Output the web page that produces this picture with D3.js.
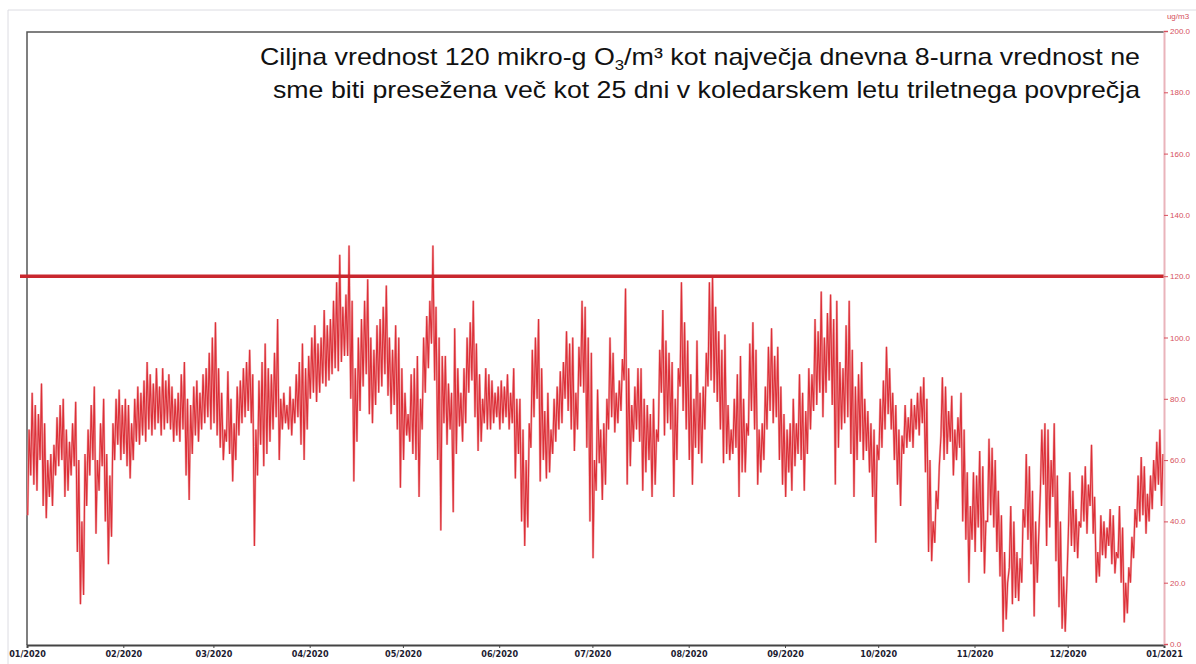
<!DOCTYPE html>
<html>
<head>
<meta charset="utf-8">
<script src="https://cdn.jsdelivr.net/npm/d3@7"></script>
<style>
  body { margin: 0; background: #fff; }
  svg { display: block; font-family: "Liberation Sans", Arial, sans-serif; }
</style>
</head>
<body>
<div id="chart"></div>
<script>
// daily maximum of the 8-hour running mean (ug/m3), Jan..Dec 2020
var dailyMax = [
  70, 82, 78, 75, 85, 72, 60, 62, 65, 74, 78, 80, 70, 66, 72, 79, 60, 40, 62, 70, 78, 84, 60, 72, 80, 62, 55, 72, 80, 83, 78,
  80, 78, 72, 80, 84, 82, 86, 92, 88, 85, 90, 84, 90, 86, 88, 84, 80, 82, 88, 92, 80, 78, 84, 86, 82, 88, 90, 95, 100,
  105, 90, 82, 70, 89, 80, 72, 84, 86, 90, 92, 96, 88, 70, 86, 92, 98, 90, 88, 95, 106, 80, 82, 78, 84, 80, 88, 92, 98, 90, 94,
  100, 104, 98, 100, 109, 104, 106, 112, 118, 127, 110, 114, 130, 112, 90, 100, 106, 112, 119, 100, 96, 104, 106, 110, 117, 100, 96, 104, 100, 90,
  82, 75, 88, 90, 94, 80, 100, 107, 112, 130, 110, 100, 94, 94, 85, 82, 103, 90, 82, 90, 100, 105, 112, 98, 88, 80, 90, 88, 86, 82, 84,
  86, 84, 88, 82, 90, 80, 80, 70, 60, 72, 96, 100, 106, 90, 76, 82, 70, 80, 84, 89, 92, 102, 98, 100, 82, 97, 112, 110, 100, 95,
  60, 83, 70, 72, 80, 100, 95, 82, 86, 93, 116, 90, 78, 84, 90, 90, 80, 78, 75, 80, 70, 96, 109, 99, 95, 92, 80, 90, 118, 105, 99,
  88, 80, 99, 82, 84, 95, 118, 120, 110, 102, 96, 101, 78, 70, 80, 88, 94, 80, 72, 98, 105, 96, 70, 72, 84, 97, 103, 94, 97, 84, 75,
  70, 72, 80, 72, 88, 82, 76, 90, 88, 106, 102, 115, 100, 108, 114, 106, 112, 92, 90, 104, 112, 96, 84, 88, 92, 80, 76, 72, 70, 65,
  80, 86, 97, 90, 82, 78, 70, 68, 78, 74, 80, 78, 82, 84, 87, 80, 60, 40, 50, 58, 87, 84, 76, 81, 70, 74, 82, 70, 56, 45, 56,
  55, 63, 58, 40, 67, 64, 60, 50, 42, 30, 20, 45, 40, 30, 28, 44, 62, 58, 50, 40, 35, 70, 72, 70, 60, 72, 55, 40, 22, 18,
  56, 50, 44, 40, 55, 58, 52, 65, 48, 30, 42, 40, 38, 44, 42, 30, 45, 38, 20, 25, 35, 44, 55, 61, 58, 49, 55, 60, 66, 70, 62
];

// daily minimum of the same series
var dailyMin = [
  42, 55, 52, 50, 60, 45, 41, 48, 45, 55, 58, 60, 48, 50, 55, 58, 30, 13, 16, 45, 55, 60, 36, 50, 58, 40, 26, 35, 60, 65, 60,
  62, 58, 54, 60, 66, 65, 68, 66, 70, 68, 70, 72, 68, 70, 72, 70, 66, 68, 66, 70, 55, 47, 62, 68, 66, 70, 72, 74, 70,
  72, 68, 64, 60, 66, 62, 53, 60, 68, 72, 74, 76, 72, 32, 55, 65, 58, 62, 66, 70, 74, 60, 70, 72, 70, 68, 72, 74, 65, 60, 70,
  80, 82, 79, 82, 85, 84, 86, 88, 90, 89, 92, 94, 94, 80, 53, 66, 76, 84, 88, 75, 72, 78, 82, 84, 88, 81, 75, 78, 70, 51,
  60, 68, 66, 62, 60, 48, 70, 82, 90, 98, 86, 60, 37, 72, 65, 70, 43, 62, 71, 66, 72, 82, 86, 74, 63, 66, 72, 70, 70, 72, 74,
  70, 72, 74, 70, 72, 54, 62, 40, 32, 38, 64, 74, 80, 53, 60, 54, 56, 62, 66, 70, 72, 80, 76, 70, 63, 70, 84, 82, 64, 40,
  28, 50, 59, 47, 52, 70, 74, 69, 72, 76, 86, 52, 58, 66, 70, 66, 50, 56, 60, 48, 52, 66, 82, 68, 72, 70, 48, 60, 84, 76, 70,
  60, 52, 64, 62, 59, 70, 84, 86, 82, 79, 70, 59, 62, 60, 62, 64, 48, 56, 56, 68, 76, 70, 52, 56, 60, 70, 76, 72, 74, 60, 52,
  48, 56, 50, 58, 62, 60, 50, 62, 70, 76, 78, 82, 74, 82, 86, 78, 52, 64, 70, 72, 74, 62, 48, 60, 66, 60, 63, 56, 48, 33,
  60, 64, 70, 75, 70, 60, 52, 45, 62, 64, 66, 64, 70, 68, 72, 56, 30, 27, 33, 44, 68, 60, 62, 66, 55, 60, 64, 40, 34, 20, 34,
  30, 38, 30, 23, 40, 42, 38, 30, 22, 4, 8, 25, 13, 15, 14, 20, 38, 34, 26, 9, 20, 50, 52, 32, 38, 48, 27, 12, 5, 4,
  36, 32, 30, 28, 38, 40, 36, 45, 36, 20, 22, 29, 28, 32, 26, 23, 28, 20, 7, 10, 20, 28, 38, 40, 42, 36, 40, 44, 50, 52, 45
];

var targetValue = 120;
var yTicks = [0, 20, 40, 60, 80, 100, 120, 140, 160, 180, 200];
var titleLine2 = "sme biti presežena več kot 25 dni v koledarskem letu triletnega povprečja";

var W = 1196, H = 664;
var plotLeft = 27, plotRight = 1164, plotTop = 31, plotBottom = 644;

var svg = d3.select("#chart").append("svg")
    .attr("width", W)
    .attr("height", H);

// build the series: a low point early in the day and a high point in the afternoon
var series = [];
dailyMax.forEach(function(hi, i) {
    series.push({ date: new Date(Date.UTC(2020, 0, 1 + i, 5)), value: dailyMin[i] });
    series.push({ date: new Date(Date.UTC(2020, 0, 1 + i, 16)), value: hi });
});

var x = d3.scaleUtc()
    .domain([new Date(Date.UTC(2020, 0, 1)), new Date(Date.UTC(2021, 0, 1))])
    .range([plotLeft, plotRight]);

var y = d3.scaleLinear()
    .domain([0, 200])
    .range([plotBottom, plotTop]);

// faint outer frame of the scanned picture
svg.append("path")
    .attr("d", "M8,664 V10 H1196")
    .attr("fill", "none")
    .attr("stroke", "#dcdce2")
    .attr("stroke-width", 1);

// plot frame (left and top)
svg.append("path")
    .attr("d", "M" + plotLeft + "," + (plotBottom + 1) + " V" + (plotTop + 1) + " H" + plotRight)
    .attr("fill", "none")
    .attr("stroke", "#555")
    .attr("stroke-width", 1.5);

// the ozone line
var line = d3.line()
    .x(function(d) { return x(d.date); })
    .y(function(d) { return y(d.value); });

svg.append("path")
    .datum(series)
    .attr("fill", "none")
    .attr("stroke", "#f2a8ab")
    .attr("stroke-width", 2.2)
    .attr("d", line);

svg.append("path")
    .datum(series)
    .attr("fill", "none")
    .attr("stroke", "#dc3038")
    .attr("stroke-width", 1.1)
    .attr("d", line);

// target value line
svg.append("line")
    .attr("x1", 20)
    .attr("x2", plotRight)
    .attr("y1", y(targetValue))
    .attr("y2", y(targetValue))
    .attr("stroke", "#c9272e")
    .attr("stroke-width", 3.5);

// x axis
var xAxis = d3.axisBottom(x)
    .ticks(d3.utcMonth.every(1))
    .tickSize(3)
    .tickFormat(d3.utcFormat("%m/%Y"));

var gx = svg.append("g")
    .attr("transform", "translate(0," + (plotBottom + 1) + ")")
    .call(xAxis);
gx.select(".domain").attr("stroke", "#444").attr("stroke-width", 2);
gx.selectAll(".tick line").attr("stroke", "#444");
gx.selectAll(".tick text")
    .attr("y", 6)
    .attr("fill", "#1c2030")
    .style("font-family", "'DejaVu Sans Condensed', 'Liberation Sans Narrow', sans-serif")
    .style("font-weight", "bold")
    .style("font-size", "9px");

// right axis
var yAxis = d3.axisRight(y)
    .tickValues(yTicks)
    .tickSize(4)
    .tickFormat(d3.format(".1f"));

var gy = svg.append("g")
    .attr("transform", "translate(" + plotRight + ",0)")
    .call(yAxis);
gy.select(".domain").attr("stroke", "#eab4bb").attr("stroke-width", 2);
gy.selectAll(".tick line").attr("stroke", "#d9505d");
gy.selectAll(".tick text")
    .attr("x", 6)
    .attr("fill", "#d6505c")
    .style("font-size", "8px");

svg.append("text")
    .attr("x", 1178)
    .attr("y", 19)
    .attr("text-anchor", "middle")
    .attr("fill", "#d6505c")
    .style("font-size", "8px")
    .text("ug/m3");

// title, right aligned
var t1 = svg.append("text")
    .attr("x", 260)
    .attr("y", 65)
    .attr("textLength", 880)
    .attr("lengthAdjust", "spacingAndGlyphs")
    .attr("fill", "#111")
    .style("font-size", "24px");
t1.append("tspan").text("Ciljna vrednost 120 mikro-g O");
t1.append("tspan").attr("dy", 5).style("font-size", "15px").text("3");
t1.append("tspan").attr("dy", -5).text("/m³ kot največja dnevna 8-urna vrednost ne");

svg.append("text")
    .attr("x", 273)
    .attr("y", 98)
    .attr("textLength", 867)
    .attr("lengthAdjust", "spacingAndGlyphs")
    .attr("fill", "#111")
    .style("font-size", "24px")
    .text(titleLine2);
</script>
</body>
</html>
